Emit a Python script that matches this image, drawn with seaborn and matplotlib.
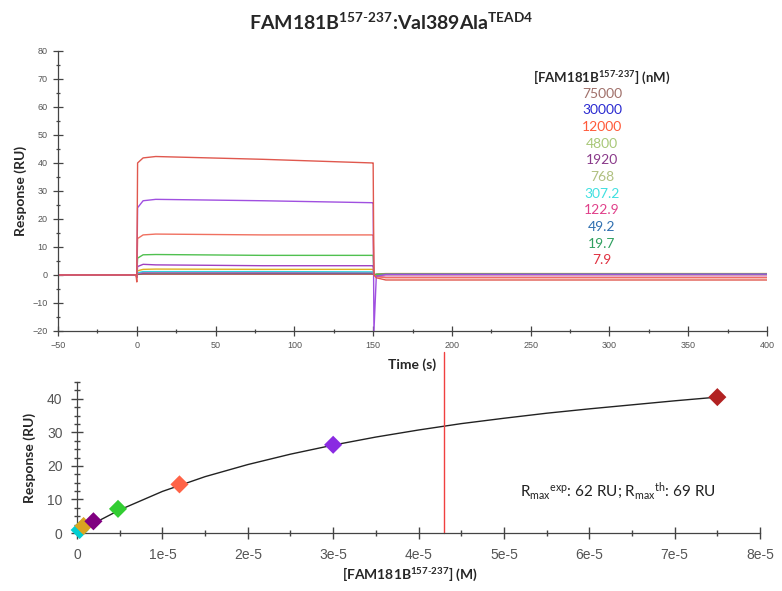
import numpy as np
import pandas as pd
import matplotlib
matplotlib.use("Agg")
import matplotlib.pyplot as plt
import seaborn as sns
from matplotlib.ticker import MultipleLocator, FuncFormatter

sns.set_theme(style="white")
plt.rcParams['font.family'] = ['Liberation Sans', 'DejaVu Sans']
plt.rcParams['mathtext.fontset'] = 'custom'
plt.rcParams['mathtext.rm'] = 'Lato'
plt.rcParams['mathtext.bf'] = 'Lato:bold'
plt.rcParams['mathtext.it'] = 'Lato:italic'

# ---------------- data ----------------
conc_labels = ["75000", "30000", "12000", "4800", "1920", "768",
               "307.2", "122.9", "49.2", "19.7", "7.9"]
legend_colors = ["#a0706a", "#2a2ad0", "#ff5a3a", "#a8c878", "#8a3a8a", "#b0c080",
                 "#40e0e0", "#e0408a", "#3070b0", "#30a060", "#e03040"]
line_colors = ["#e0584e", "#a050e0", "#f07060", "#50c050", "#a040c0", "#e0b020",
               "#30d0e0", "#e050a0", "#2a2ad0", "#30a060", "#e03040"]

t_knots = [-50, -0.5, 0, 0.5, 4, 12, 80, 149.5, 150, 150.5, 152, 158, 400]
resp_75000 = [0, 0, -2.5, 40.0, 41.8, 42.3, 41.3, 40.0, 40.0, 0.0, -1.0, -1.8, -1.8]
resp_30000 = [0, 0, -1.0, 24.0, 26.5, 27.0, 26.5, 25.8, 25.8, -20.0, -0.5, 0.2, 0.3]
resp_12000 = [0, 0, -1.0, 13.0, 14.3, 14.6, 14.3, 14.3, 14.3, 0.0, -0.5, -1.0, -1.0]
resp_4800 = [0, 0, -0.5, 6.0, 7.2, 7.3, 7.0, 7.0, 7.0, 0.0, 0.2, 0.3, 0.4]
resp_1920 = [0, 0, -0.5, 3.0, 3.8, 3.6, 3.3, 3.3, 3.3, 0.0, 0.2, 0.3, 0.3]
resp_768 = [0, 0, -0.5, 1.5, 2.0, 2.1, 2.0, 2.0, 2.0, 0.0, 0.3, 0.5, 0.5]
resp_307 = [0, 0, -0.3, 0.8, 1.2, 1.2, 1.2, 1.1, 1.1, 0.0, 0.2, 0.3, 0.3]
resp_123 = [0, 0, -0.3, 0.5, 0.8, 0.8, 0.8, 0.8, 0.8, 0.0, -0.5, -0.8, -0.8]
resp_49 = [0, 0, -0.3, 0.5, 0.8, 0.9, 0.8, 0.8, 0.8, 0.0, 0.1, 0.2, 0.2]
resp_19 = [0, 0, -0.2, 0.3, 0.5, 0.5, 0.5, 0.5, 0.5, 0.0, 0.1, 0.2, 0.2]
resp_7 = [0, 0, -0.2, 0.2, 0.3, 0.3, 0.3, 0.3, 0.3, 0.0, 0.0, 0.1, 0.1]
responses = [resp_75000, resp_30000, resp_12000, resp_4800, resp_1920, resp_768,
             resp_307, resp_123, resp_49, resp_19, resp_7]

# steady-state affinity points
ss_conc = [7.5e-5, 3.0e-5, 1.2e-5, 4.8e-6, 1.92e-6, 7.68e-7, 3.07e-7]
ss_resp = [40.5, 26.3, 14.5, 7.2, 3.5, 2.1, 0.9]
ss_colors = ["#b22222", "#8a2be2", "#ff6347", "#32cd32", "#800080", "#daa520", "#00ced1"]
ss_labels = ["75000", "30000", "12000", "4800", "1920", "768", "307.2"]

fit_conc = [0, 0.25e-5, 0.5e-5, 1e-5, 1.5e-5, 2e-5, 2.5e-5, 3e-5, 3.5e-5, 4e-5,
            4.5e-5, 5e-5, 5.5e-5, 6e-5, 6.5e-5, 7e-5, 7.5e-5]
fit_resp = [0, 3.6, 6.9, 12.4, 16.8, 20.4, 23.5, 26.2, 28.6, 30.7,
            32.6, 34.2, 35.7, 37.0, 38.2, 39.4, 40.5]
kd_value = 4.3e-5

# ---------------- figure ----------------
fig = plt.figure(figsize=(7.82, 5.91), dpi=100)
ax1 = fig.add_axes([0.0742, 0.440, 0.9067, 0.4738])
ax2 = fig.add_axes([0.0985, 0.0981, 0.8734, 0.2555])

rows = []
for lab, r in zip(conc_labels, responses):
    for t, v in zip(t_knots, r):
        rows.append((lab, t, v))
df = pd.DataFrame(rows, columns=["conc", "time", "resp"])
pal = dict(zip(conc_labels, line_colors))
sns.lineplot(data=df, x="time", y="resp", hue="conc", palette=pal,
             hue_order=conc_labels[::-1], estimator=None, sort=False,
             linewidth=1.0, legend=False, ax=ax1)

ax1.set_xlim(-50, 400)
ax1.set_ylim(-20, 80)
ax1.xaxis.set_major_locator(MultipleLocator(50))
ax1.xaxis.set_minor_locator(MultipleLocator(25))
ax1.yaxis.set_major_locator(MultipleLocator(10))
ax1.yaxis.set_minor_locator(MultipleLocator(5))
for a in (ax1, ax2):
    for s in ("top", "right"):
        a.spines[s].set_visible(False)
    for s in ("left", "bottom"):
        a.spines[s].set_color("#444444")
        a.spines[s].set_linewidth(0.9)
    a.tick_params(which="both", bottom=True, left=True, top=False, right=False)
ax1.tick_params(which="major", direction="inout", length=7, width=0.9,
                color="#444444", labelsize=6.5, labelcolor="#555555", pad=4)
ax1.tick_params(which="minor", direction="inout", length=3, width=0.9, color="#444444")
ax1.set_xlabel("Time (s)", fontsize=10, fontweight="bold", family=["Lato", "DejaVu Sans"], labelpad=6)
ax1.set_ylabel("Response (RU)", fontsize=10, fontweight="bold", family=["Lato", "DejaVu Sans"], labelpad=4)

# legend text block
fig.text(602 / 782, 1 - 77 / 591, r"[FAM181B$^{\mathbf{157\text{-}237}}$] (nM)",
         ha="center", va="center", fontsize=9.5, fontweight="bold",
         family=["Lato", "DejaVu Sans"])
for i, (lab, col) in enumerate(zip(conc_labels, legend_colors)):
    fig.text(602 / 782, 1 - (93.5 + i * 16.7) / 591, lab, ha="center", va="center",
             fontsize=10, color=col, family=["Lato", "DejaVu Sans"])

# bottom panel
fit_df = pd.DataFrame({"conc": fit_conc, "resp": fit_resp})
sns.lineplot(data=fit_df, x="conc", y="resp", color="#222222", linewidth=1.0, ax=ax2)
ss_df = pd.DataFrame({"conc": ss_conc, "resp": ss_resp, "lab": ss_labels})
sns.scatterplot(data=ss_df[::-1], x="conc", y="resp", hue="lab",
                palette=dict(zip(ss_labels, ss_colors)), marker="D", s=85,
                edgecolor="none", legend=False, ax=ax2, clip_on=False, zorder=5)
ax2.axvline(kd_value, ymin=0, ymax=1.2, color="#f04040", linewidth=1.0, clip_on=False)

ax2.set_xlim(0, 8e-5)
ax2.set_ylim(0, 45)
ax2.xaxis.set_major_locator(MultipleLocator(1e-5))
ax2.xaxis.set_minor_locator(MultipleLocator(0.5e-5))
ax2.yaxis.set_major_locator(MultipleLocator(10))
ax2.yaxis.set_minor_locator(MultipleLocator(2.5))
ax2.xaxis.set_major_formatter(FuncFormatter(lambda v, p: "0" if abs(v) < 1e-12 else f"{int(round(v * 1e5))}e-5"))
ax2.tick_params(which="major", direction="inout", length=9, width=1.0,
                color="#444444", labelsize=10, labelcolor="#555555", pad=6)
ax2.tick_params(which="minor", direction="inout", length=5, width=1.0, color="#444444")
ax2.set_xlabel(r"[FAM181B$^{\mathbf{157\text{-}237}}$] (M)", fontsize=10, fontweight="bold",
               family=["Lato", "DejaVu Sans"])
ax2.xaxis.set_label_coords((410 - 77) / 683, -0.22)
ax2.set_ylabel("Response (RU)", fontsize=10, fontweight="bold", family=["Lato", "DejaVu Sans"], labelpad=8)

fig.text(618 / 782, 1 - 491 / 591,
         r"R$_{\mathrm{max}}$$^{\mathrm{exp}}$: 62 RU; R$_{\mathrm{max}}$$^{\mathrm{th}}$: 69 RU",
         ha="center", va="center", fontsize=11, family=["Lato", "DejaVu Sans"], color="#222222")

fig.text(0.5, 1 - 22 / 591,
         r"FAM181B$^{\mathbf{157\text{-}237}}$:Val389Ala$^{\mathbf{TEAD4}}$",
         ha="center", va="center", fontsize=14, fontweight="bold",
         family=["Lato", "DejaVu Sans"])

fig.savefig("out.png", dpi=100)
